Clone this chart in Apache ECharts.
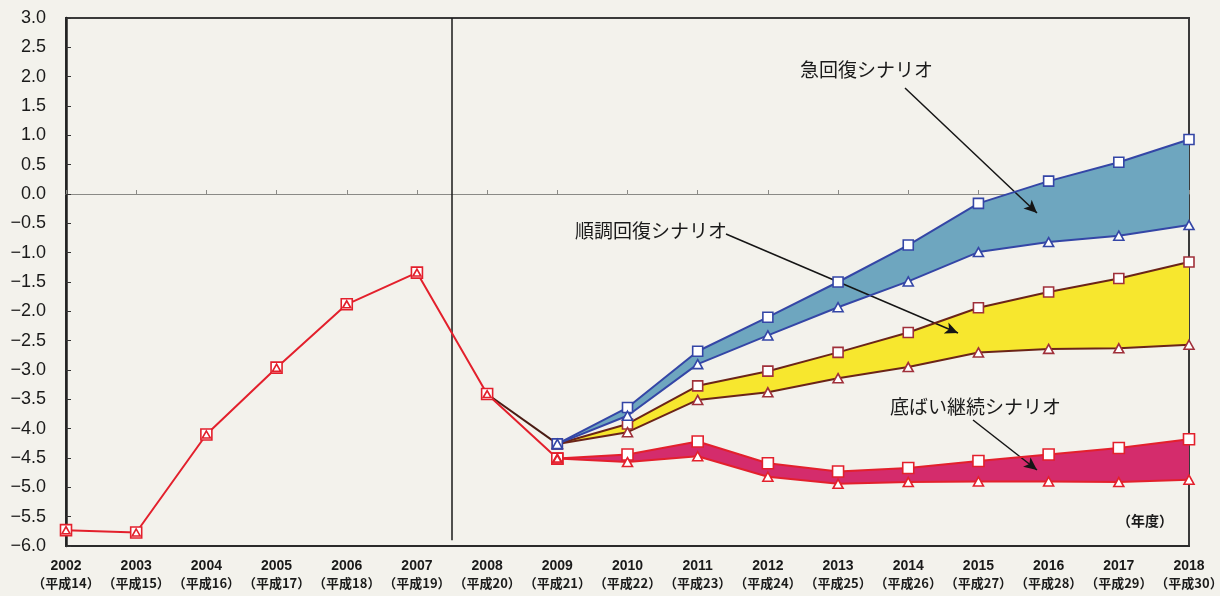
<!DOCTYPE html>
<html>
<head>
  <meta charset="utf-8">
  <title>シナリオ別推移</title>
  <script src="https://cdn.jsdelivr.net/npm/echarts@6.0.0/dist/echarts.min.js"></script>
  <style>
    html, body { margin: 0; padding: 0; background: #f3f2ec; }
    #main { width: 1220px; height: 596px; }
  </style>
</head>
<body>
  <div id="main"></div>
  <script>
    // 年度・和暦ラベル
    const years = [2002, 2003, 2004, 2005, 2006, 2007, 2008, 2009, 2010, 2011, 2012, 2013, 2014, 2015, 2016, 2017, 2018];
    const eraLabels = ['平成14', '平成15', '平成16', '平成17', '平成18', '平成19', '平成20', '平成21', '平成22',
                       '平成23', '平成24', '平成25', '平成26', '平成27', '平成28', '平成29', '平成30'];

    // 実績（2002〜2009）
    const histYears = [2002, 2003, 2004, 2005, 2006, 2007, 2008, 2009];
    const history = [-5.73, -5.77, -4.10, -2.96, -1.88, -1.34, -3.41, -4.51];

    // 2008→2009 分岐線
    const branchYears = [2008, 2009];
    const branch = [-3.41, -4.26];

    // シナリオ（2009〜2018）
    const scenYears = [2009, 2010, 2011, 2012, 2013, 2014, 2015, 2016, 2017, 2018];
    const rapidUpper  = [-4.26, -3.64, -2.68, -2.10, -1.50, -0.87, -0.16, 0.22, 0.54, 0.93];
    const rapidLower  = [-4.26, -3.78, -2.90, -2.41, -1.93, -1.49, -0.99, -0.82, -0.71, -0.53];
    const smoothUpper = [-4.26, -3.92, -3.27, -3.02, -2.70, -2.36, -1.94, -1.67, -1.44, -1.16];
    const smoothLower = [-4.26, -4.06, -3.51, -3.38, -3.14, -2.95, -2.70, -2.64, -2.63, -2.57];
    const flatUpper   = [-4.51, -4.44, -4.22, -4.59, -4.73, -4.67, -4.55, -4.44, -4.33, -4.18];
    const flatLower   = [-4.51, -4.57, -4.47, -4.82, -4.94, -4.91, -4.90, -4.90, -4.91, -4.87];

    const pairs = (xs, ys) => xs.map((x, i) => [x, ys[i]]);

    // 上下の線の間を塗る
    function band(upper, lower, color) {
      return {
        type: 'custom',
        silent: true,
        z: 1,
        data: pairs(scenYears, upper),
        encode: { x: 0, y: 1 },
        renderItem: function (params, api) {
          if (params.dataIndex !== 0) return;
          const top = scenYears.map((x, i) => api.coord([x, upper[i]]));
          const bottom = scenYears.map((x, i) => api.coord([x, lower[i]])).reverse();
          return {
            type: 'polygon',
            shape: { points: top.concat(bottom) },
            style: { fill: color, stroke: null }
          };
        }
      };
    }

    function line(xs, ys, color, symbol, size, borderColor, z, showLine) {
      return {
        type: 'line',
        data: pairs(xs, ys),
        symbol: symbol,
        symbolSize: size,
        showAllSymbol: true,
        z: z,
        lineStyle: { color: color, width: showLine === false ? 0 : 2 },
        itemStyle: { color: '#fff', borderColor: borderColor, borderWidth: 1.6 },
        emphasis: { disabled: true }
      };
    }

    const chart = echarts.init(document.getElementById('main'));

    const histLine = line(histYears, history, '#e3202c', 'rect', 11, '#e3202c', 5);
    histLine.markLine = {
      silent: true,
      symbol: 'none',
      label: { show: false },
      data: [
        [{ coord: [2007.5, 3] }, { coord: [2007.5, -5.9] }]
      ],
      lineStyle: { color: '#1a1a1a', width: 1.5, type: 'solid' }
    };

    const arrowLine = line(branchYears, branch, '#4a1c14', 'none', 0, '#4a1c14', 4);
    arrowLine.markLine = {
      silent: true,
      symbol: ['none', 'arrow'],
      symbolSize: [9, 13],
      label: { show: false },
      lineStyle: { color: '#151515', width: 1.5, type: 'solid' },
      data: [
        [{ x: 905, y: 88 }, { x: 1037, y: 213 }],
        [{ x: 726, y: 234 }, { x: 958, y: 333 }],
        [{ x: 973, y: 420 }, { x: 1037, y: 470 }]
      ]
    };

    const option = {
      animation: false,
      backgroundColor: '#f3f2ec',
      grid: {
        left: 66, right: 31, top: 18, bottom: 50,
        outerBoundsMode: 'none',
        show: true, borderColor: '#3a3a3a', borderWidth: 2, backgroundColor: 'transparent'
      },
      xAxis: [
        {
          type: 'value', position: 'bottom',
          min: 2002, max: 2018, interval: 1,
          axisLine: { onZero: false, lineStyle: { color: '#2a2a2a', width: 2 } },
          axisTick: { show: false },
          splitLine: { show: false },
          axisLabel: {
            margin: 11,
            hideOverlap: false,
            formatter: function (v) {
              const i = years.indexOf(v);
              return '{y|' + v + '}\n{e|（' + eraLabels[i] + '）}';
            },
            rich: {
              y: { fontSize: 14, fontWeight: 'bold', fontFamily: 'Liberation Sans', color: '#1a1a1a', lineHeight: 18 },
              e: { fontSize: 13, fontWeight: 'bold', fontFamily: 'Noto Sans CJK JP', color: '#1a1a1a', lineHeight: 17 }
            }
          }
        },
        {
          type: 'value', position: 'top',
          min: 2002, max: 2018, interval: 1,
          axisLine: { onZero: true, lineStyle: { color: '#8a8a86', width: 1 } },
          axisTick: { show: true, inside: false, length: 4, lineStyle: { color: '#8a8a86' } },
          axisLabel: { show: false },
          splitLine: { show: false }
        }
      ],
      yAxis: {
        type: 'value',
        min: -6, max: 3, interval: 0.5,
        axisLine: { show: true, lineStyle: { color: '#222', width: 2.5 } },
        axisTick: { show: true, inside: true, length: 5, lineStyle: { color: '#333' } },
        splitLine: { show: false },
        axisLabel: {
          margin: 20,
          fontSize: 18,
          fontFamily: 'Liberation Sans',
          color: '#1a1a1a',
          formatter: v => v.toFixed(1).replace('-', '−')
        }
      },
      graphic: [
        { type: 'text', x: 800, y: 70, style: { text: '急回復シナリオ', font: '19px "Noto Sans CJK JP"', fill: '#1a1a1a', verticalAlign: 'middle' } },
        { type: 'text', x: 575, y: 231, style: { text: '順調回復シナリオ', font: '19px "Noto Sans CJK JP"', fill: '#1a1a1a', verticalAlign: 'middle' } },
        { type: 'text', x: 890, y: 407, style: { text: '底ばい継続シナリオ', font: '19px "Noto Sans CJK JP"', fill: '#1a1a1a', verticalAlign: 'middle' } },
        { type: 'text', x: 1117, y: 521, style: { text: '（年度）', font: 'bold 14px "Noto Sans CJK JP"', fill: '#1a1a1a', verticalAlign: 'middle' } }
      ],
      series: [
        band(rapidUpper, rapidLower, '#6ea6bf'),
        band(smoothUpper, smoothLower, '#f7e72e'),
        band(flatUpper, flatLower, '#d42c6c'),
        histLine,
        line(histYears, history, '#e3202c', 'triangle', [8, 7], '#e3202c', 6, false),
        arrowLine,
        line(scenYears, rapidUpper, '#3446a6', 'rect', 10, '#3446a6', 7),
        line(scenYears, rapidLower, '#3446a6', 'triangle', [10, 9], '#3446a6', 7),
        line(scenYears, smoothUpper, '#6b2418', 'rect', 10, '#a0303a', 6),
        line(scenYears, smoothLower, '#6b2418', 'triangle', [10, 9], '#a0303a', 6),
        line(scenYears, flatUpper, '#e3202c', 'rect', 11, '#e3202c', 5),
        line(scenYears, flatLower, '#e3202c', 'triangle', [10, 9], '#e3202c', 5)
      ]
    };

    chart.setOption(option);
  </script>
</body>
</html>
